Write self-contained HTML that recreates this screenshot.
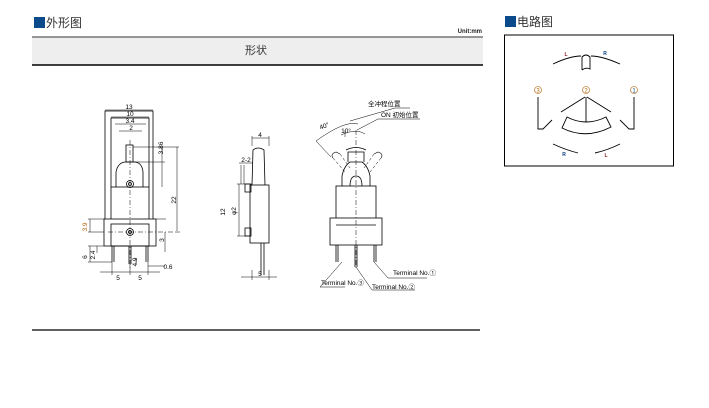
<!DOCTYPE html>
<html><head><meta charset="utf-8"><style>
body{margin:0;background:#fff;width:709px;height:408px;overflow:hidden}
svg{display:block}
text{font-family:"Liberation Sans","Noto Sans CJK SC",sans-serif}
</style></head><body>
<svg width="709" height="408" viewBox="0 0 709 408" xmlns="http://www.w3.org/2000/svg">
<!-- headers -->
<rect x="34" y="17" width="11" height="11" fill="#0b4a8b"/>
<text x="46" y="27" font-size="12" fill="#333">外形图</text>
<rect x="505" y="16" width="11" height="11" fill="#0b4a8b"/>
<text x="517" y="26" font-size="12" fill="#333">电路图</text>
<text x="482" y="33" font-size="6" text-anchor="end" fill="#222" font-weight="bold">Unit:mm</text>
<rect x="32" y="37" width="451" height="28" fill="#eeeeee"/>
<line x1="32" y1="37" x2="483" y2="37" stroke="#777" stroke-width="1.5"/>
<line x1="32" y1="65" x2="483" y2="65" stroke="#000" stroke-width="1.5"/>
<text x="256" y="54" font-size="11" text-anchor="middle" fill="#333">形状</text>
<line x1="32" y1="330" x2="480" y2="330" stroke="#000" stroke-width="1.2"/>

<g stroke="#000" fill="none" stroke-width="0.8">
<!-- front view -->
<path d="M105,246 V111 H153 V246"/>
<path d="M111,187 V118 H149 V187"/>
<rect x="111" y="187" width="38" height="33" fill="#fff"/>
<rect x="104" y="219" width="52" height="27" fill="#fff"/>
<rect x="111" y="224" width="38" height="22"/>
<path d="M116,187 V172 Q118,162 126,162 H134 Q142,162 143,172 V187"/>
<rect x="126" y="145" width="7" height="17"/>
<circle cx="130" cy="184" r="3.5"/><circle cx="130" cy="184" r="1.5"/>
<circle cx="130" cy="232" r="3.5"/><circle cx="130" cy="232" r="1.5"/>
<path d="M112,246 V262 M114,246 V262 M129,246 V264 M131,246 V264 M146,246 V262 M148,246 V262"/>
<line x1="130" y1="140" x2="130" y2="270" stroke-dasharray="5,2,1,2" stroke-width="0.5"/>
<line x1="108" y1="232" x2="180" y2="232" stroke-dasharray="5,2,1,2" stroke-width="0.5"/>
<g stroke-width="0.5">
<path d="M105,110 H153 M111,117 H149 M115,124 H146 M119,131 H142"/>
<path d="M133,147 H179 M133,162 H165 M177,147 V233 M162,147 V187 M165,232 V252 M156,219 H166"/>
<path d="M88,219 H104 M88,232 H104 M90,219 V232 M88,246 H104 M88,262 H112 M90,246 V262 M97,246 V253"/>
<path d="M100,272 H160 M112,262 V275 M130,264 V275 M148,262 V275 M136,258 V265 M148,266 H165"/>
</g>
<!-- side view -->
<rect x="250" y="185" width="19" height="58" fill="#fff"/>
<path d="M252,185 L253,150 Q258,146 264,150 L265,185"/>
<rect x="245" y="184" width="6" height="8"/><rect x="245" y="228" width="6" height="8"/>
<path d="M261,243 V275 M264,243 V275"/>
<g stroke-width="0.5">
<path d="M252,138 H269 M252,136 V146 M269,136 V146 M239,163 H253 M241,165 V184 M244,165 V184 M237,184 H250 M237,236 H250 M239,184 V236 M241,277 H277 M252,270 V280 M269,270 V280"/>
</g>
<!-- third view -->
<rect x="336" y="186" width="40" height="33" fill="#fff"/>
<rect x="330" y="218" width="52" height="27" fill="#fff"/>
<line x1="336" y1="225" x2="376" y2="225"/>
<path d="M342,186 V176 Q344,166 350,162 H362 Q368,166 370,176 V186"/>
<path d="M350,186 Q350,176 356,176 Q362,176 362,186"/>
<path d="M348,162 V152 H364 V162"/>
<path d="M346,150 Q356,145 366,150"/>
<path d="M336,245 V262 M338,245 V262 M355,245 V267 M357,245 V267 M374,245 V262 M376,245 V262"/>
<line x1="356" y1="130" x2="356" y2="268" stroke-dasharray="5,2,1,2" stroke-width="0.5"/>
<g stroke-width="0.5" stroke-dasharray="3,2">
<path d="M333,158 L345,172 M340,154 L350,168 M374,154 L364,168 M381,158 L370,172"/>
</g>
<path d="M333,158 Q330,154 336,152 L340,154 M381,158 Q384,154 378,152 L374,154" stroke-width="0.6"/>
<g stroke-width="0.5">
<path d="M316,141 Q345,120 358,124 M316,141 L331,157 M341,135 Q356,128 365,134 M345,130 V137"/>
<path d="M350,121 L395,108 H410 M357,130 L378,119 H420"/>
<path d="M342,262 L320,287 H345 M356,267 L372,290 H415 M374,262 L388,278 H427"/>
</g>
</g>
<g font-size="6.5" fill="#000" text-anchor="middle">
<text x="129" y="109">13</text><text x="130" y="116">10</text><text x="130" y="123">3.4</text><text x="131" y="130">2</text>
<text x="171" y="156" transform="rotate(-90 163 156)">3.86</text>
<text x="176" y="200" transform="rotate(-90 176 200)">22</text>
<text x="87" y="227" transform="rotate(-90 87 227)" fill="#b06000">3.9</text>
<text x="164" y="240" transform="rotate(-90 164 240)">3</text>
<text x="87" y="257" transform="rotate(-90 87 257)">6</text>
<text x="95" y="255" transform="rotate(-90 95 255)">2.4</text>
<text x="137" y="262" transform="rotate(-90 137 262)">4.9</text>
<text x="168" y="269">0.6</text>
<text x="118" y="280">5</text><text x="140" y="280">5</text>
<text x="260" y="137">4</text><text x="246" y="162">2-2</text>
<text x="225" y="212" transform="rotate(-90 225 212)">12</text>
<text x="236" y="211" transform="rotate(-90 236 211)">φ2</text>
<text x="260" y="276">5</text>
<text x="325" y="128" transform="rotate(-20 325 128)">40°</text>
<text x="346" y="133">10°</text>
</g>
<g font-size="6.5" fill="#000">
<text x="368" y="106">全冲程位置</text>
<text x="381" y="117">ON 初始位置</text>
<text x="393" y="275">Terminal No.①</text>
<text x="321" y="285">Terminal No.③</text>
<text x="372" y="289">Terminal No.②</text>
</g>

<!-- circuit -->
<rect x="504.5" y="35" width="169" height="131" fill="none" stroke="#000" stroke-width="1"/>
<g stroke="#000" fill="none" stroke-width="0.9">
<path d="M553,64 Q570,56 581,56 M591,56 Q602,56 620,64"/>
<path d="M582,70 V57 Q586,53 590,57 V69 Q586,67 582,70"/>
<path d="M538,97 V129 H543 L552,120"/>
<path d="M634,97 V129 H629 L620,120"/>
<path d="M585,97 L561,112 M586,97 V122 M587,97 L611,112"/>
<path d="M567,117 Q586,127 606,117 L611,127 Q586,140 562,128 Z"/>
<path d="M553,144 Q566,150 578,153 M595,153 Q608,150 620,144"/>
</g>
<g font-size="7" text-anchor="middle" fill="#b06000">
<circle cx="538" cy="90" r="3.5" fill="none" stroke="#b06000" stroke-width="0.6"/><text x="538" y="92.5" font-size="6">3</text>
<circle cx="586" cy="90" r="3.5" fill="none" stroke="#b06000" stroke-width="0.6"/><text x="586" y="92.5" font-size="6">2</text>
<circle cx="634" cy="90" r="3.5" fill="none" stroke="#b06000" stroke-width="0.6"/><text x="634" y="92.5" font-size="6" fill="#0b4a8b">1</text>
</g>
<g font-size="5" font-weight="bold" text-anchor="middle" fill="#8b1a1a">
<text x="566" y="56">L</text><text x="605" y="55" fill="#0b3a7b">R</text>
<text x="564" y="156" fill="#0b3a7b">R</text><text x="606" y="157">L</text>
</g>
</svg>
</body></html>
